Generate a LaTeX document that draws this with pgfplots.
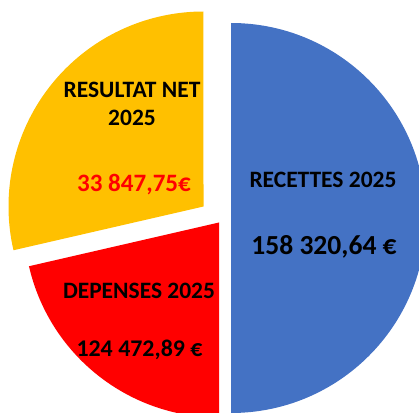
\documentclass[border=0pt]{standalone}
\usepackage{pgfplots}
\pgfplotsset{compat=1.18}
\usepackage{pgfplotstable}
\usepackage{fontspec}
\setmainfont{Carlito}
\definecolor{cRec}{HTML}{4472C4}
\definecolor{cDep}{HTML}{FF0000}
\definecolor{cRes}{HTML}{FFC000}

% slice shares as drawn, and explode offsets (px)
\pgfplotstableread{
name     value dx    dy
recettes 50.0  11    0
depenses 21.4  -1    -4.5
resultat 28.6  -16.5 11.5
}\piedata

\tikzset{lbl/.style={font=\fontsize{16.7}{20}\selectfont\bfseries, inner sep=0pt}}

\begin{document}
\begin{tikzpicture}
\pgfplotstablegetelem{0}{value}\of\piedata \let\vA\pgfplotsretval
\pgfplotstablegetelem{1}{value}\of\piedata \let\vB\pgfplotsretval
\pgfplotstablegetelem{2}{value}\of\piedata \let\vC\pgfplotsretval
\pgfplotstablegetelem{0}{dx}\of\piedata \let\dxA\pgfplotsretval
\pgfplotstablegetelem{1}{dx}\of\piedata \let\dxB\pgfplotsretval
\pgfplotstablegetelem{2}{dx}\of\piedata \let\dxC\pgfplotsretval
\pgfplotstablegetelem{0}{dy}\of\piedata \let\dyA\pgfplotsretval
\pgfplotstablegetelem{1}{dy}\of\piedata \let\dyB\pgfplotsretval
\pgfplotstablegetelem{2}{dy}\of\piedata \let\dyC\pgfplotsretval
\pgfmathsetmacro\tot{\vA+\vB+\vC}
\pgfmathsetmacro\aA{90}
\pgfmathsetmacro\aB{\aA-360*(\vA/\tot)}
\pgfmathsetmacro\aC{\aB-360*(\vB/\tot)}
\pgfmathsetmacro\aD{\aC-360*(\vC/\tot)}
\pgfmathsetmacro\xA{220+\dxA}\pgfmathsetmacro\yA{194+\dyA}
\pgfmathsetmacro\xB{220+\dxB}\pgfmathsetmacro\yB{194+\dyB}
\pgfmathsetmacro\xC{220+\dxC}\pgfmathsetmacro\yC{194+\dyC}
\def\R{4.875cm}
\begin{axis}[
  name=ax, hide axis,
  scale only axis, width=10.475cm, height=10.3cm,
  xmin=0, xmax=419, ymin=0, ymax=412,
  clip=true
]
\fill[cRec] (axis cs:\xA,\yA) -- ++(\aA:\R) arc[start angle=\aA, end angle=\aB, radius=\R] -- cycle;
\fill[cDep] (axis cs:\xB,\yB) -- ++(\aB:\R) arc[start angle=\aB, end angle=\aC, radius=\R] -- cycle;
\fill[cRes] (axis cs:\xC,\yC) -- ++(\aC:\R) arc[start angle=\aC, end angle=\aD, radius=\R] -- cycle;
\node[lbl] at (axis cs:132,322) {RESULTAT NET};
\node[lbl] at (axis cs:132,294) {2025};
\node[lbl, text=cDep, font=\fontsize{17.8}{20}\selectfont\bfseries] at (axis cs:134,227) {33 847,75€};
\node[lbl] at (axis cs:139,121) {DEPENSES 2025};
\node[lbl, font=\fontsize{17}{20}\selectfont\bfseries] at (axis cs:139.5,62) {124 472,89 €};
\node[lbl] at (axis cs:323,232) {RECETTES 2025};
\node[lbl, font=\fontsize{19.6}{22}\selectfont\bfseries] at (axis cs:324,165) {158 320,64 €};
\end{axis}
\pgfresetboundingbox
\path (0,0) rectangle (10.475cm,10.3cm);
\end{tikzpicture}
\end{document}
